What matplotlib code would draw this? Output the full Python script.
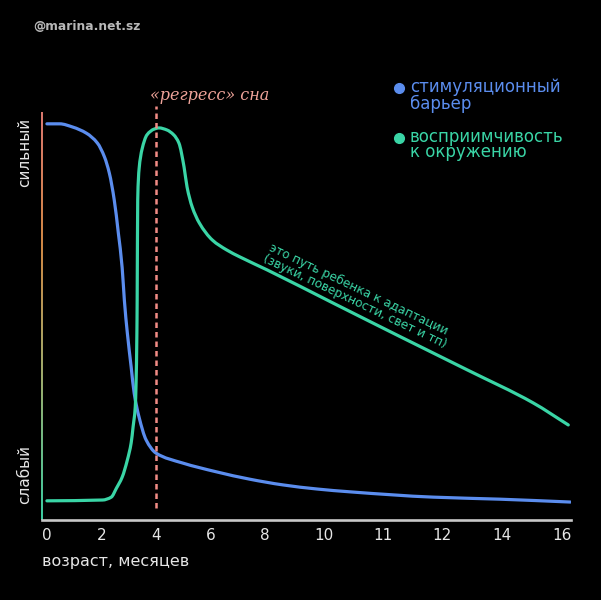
import numpy as np
import matplotlib
matplotlib.use("Agg")
import matplotlib.pyplot as plt
from matplotlib.collections import LineCollection
from matplotlib.lines import Line2D
from matplotlib.path import Path
from matplotlib.patches import PathPatch

plt.rcParams['font.family'] = ['DejaVu Sans']

# x axis: month labels, drawn at uneven positions like in the original
tick_months = [0, 2, 4, 6, 8, 10, 11, 12, 14, 16]
tick_labels = ['0', '2', '4', '6', '8', '10', '11', '12', '14', '16']
tick_pos = [0, 1, 2, 3, 4, 5.08, 6.17, 7.25, 8.35, 9.45]

# stimulus barrier (0 = weak, 100 = strong)
barrier_months = [0, 0.47, 0.95, 1.45, 1.85, 2.11, 2.29, 2.47, 2.62, 2.76, 2.84,
                  2.95, 3.09, 3.2, 3.38, 3.64, 4.0, 4.96, 6.22, 7.44, 8.61,
                  9.76, 10.44, 11.85, 13.93, 16.27]
barrier_vals = [97.1, 97.1, 96.3, 94.8, 92.4, 89.0, 85.0, 78.4, 70.3, 61.8, 53.9,
                45.8, 37.5, 31.1, 25.2, 19.6, 16.4, 14.0, 11.8, 10.0, 8.6,
                7.6, 6.9, 5.6, 5.1, 4.4]

# receptiveness to surroundings
recept_months = [0, 2.04, 2.36, 2.55, 2.76, 2.95, 3.09, 3.16, 3.24, 3.27, 3.30,
                 3.31, 3.33, 3.38, 3.49, 3.67, 3.93, 4.11, 4.4, 4.65, 4.84,
                 5.03, 5.14, 5.33, 5.59, 6.07, 6.59, 7.07, 8.07, 10.15, 11.29,
                 12.83, 15.03, 16.2]
recept_vals = [4.7, 4.9, 5.6, 7.8, 10.5, 14.7, 18.9, 22.8, 27.7, 33.6, 45.8,
               53.9, 78.4, 86.0, 90.9, 94.4, 95.8, 96.1, 95.6, 94.4, 92.4,
               86.5, 81.6, 76.7, 72.8, 68.6, 66.2, 64.5, 61.3, 53.2, 44.9,
               36.8, 28.7, 23.3]

regress_month = 4

BLUE = '#5b8dee'
GREEN = '#3ad5a6'
PINK = '#f0a49a'
WHITE = '#e6e6e6'


def to_pos(m):
    # map months onto the uneven tick layout (extended a bit on both ends)
    mm = [-1] + tick_months + [17]
    pp = [-0.5] + tick_pos + [tick_pos[-1] + 0.55]
    return np.interp(m, mm, pp)


def smooth_line(ax, x, y, **kw):
    """Draw a monotone (no overshoot) bezier curve through the points."""
    x = np.asarray(x, float)
    y = np.asarray(y, float)
    h = np.diff(x)
    d = np.diff(y) / h
    m = np.zeros_like(x)
    m[0], m[-1] = d[0], d[-1]
    for k in range(1, len(x) - 1):
        if d[k - 1] * d[k] > 0:
            w1 = 2 * h[k] + h[k - 1]
            w2 = h[k] + 2 * h[k - 1]
            m[k] = (w1 + w2) / (w1 / d[k - 1] + w2 / d[k])
    verts = [(x[0], y[0])]
    codes = [Path.MOVETO]
    for k in range(len(x) - 1):
        verts += [(x[k] + h[k] / 3, y[k] + m[k] * h[k] / 3),
                  (x[k + 1] - h[k] / 3, y[k + 1] - m[k + 1] * h[k] / 3),
                  (x[k + 1], y[k + 1])]
        codes += [Path.CURVE4] * 3
    patch = PathPatch(Path(verts, codes), fill=False, capstyle='round',
                      joinstyle='round', **kw)
    ax.add_patch(patch)


fig = plt.figure(figsize=(6.01, 6.0), dpi=100, facecolor='black')
ax = fig.add_axes([42 / 601, 1 - 520 / 600, 529 / 601, 408 / 600])
ax.set_facecolor('black')

smooth_line(ax, to_pos(barrier_months), barrier_vals, edgecolor=BLUE, lw=2.3)
smooth_line(ax, to_pos(recept_months), recept_vals, edgecolor=GREEN, lw=2.3)

rx = to_pos(regress_month)
ax.plot([rx, rx], [3, 101.5], color='#f28c86', lw=1.8, ls=(0, (2.2, 1.6)),
        clip_on=False)

ax.set_xlim(-0.09, 9.61)
ax.set_ylim(0, 100)
ax.set_xticks(tick_pos)
ax.set_xticklabels(tick_labels)
ax.set_yticks([])
ax.tick_params(axis='x', length=0, pad=6, labelsize=11, labelcolor=WHITE)
for s in ['top', 'right', 'left']:
    ax.spines[s].set_visible(False)
ax.spines['bottom'].set_color('#c8c8c8')
ax.spines['bottom'].set_linewidth(1.9)

# gradient left spine
ys = np.linspace(0, 1, 60)
segs = [[(0, ys[i]), (0, ys[i + 1])] for i in range(len(ys) - 1)]
cmap = matplotlib.colors.LinearSegmentedColormap.from_list(
    'sp', ['#3ecfa4', '#a0b070', '#d48a46', '#e07a72'])
lc = LineCollection(segs, colors=cmap(ys[:-1]), linewidths=1.4,
                    transform=ax.transAxes, clip_on=False)
ax.add_collection(lc)

ax.set_xlabel('возраст, месяцев', color=WHITE, fontsize=11.5, loc='left',
              labelpad=8)

# texts around the plot
fig.text(25 / 601, 1 - 152 / 600, 'сильный', rotation=90, color=WHITE,
         fontsize=11, ha='center', va='center')
fig.text(25 / 601, 1 - 475 / 600, 'слабый', rotation=90, color=WHITE,
         fontsize=11, ha='center', va='center')
fig.text(33 / 601, 1 - 27 / 600, '@marina.net.sz', color='#b8b8b8',
         fontsize=8.8, fontweight='bold', ha='left', va='center')
fig.text(210 / 601, 1 - 95 / 600, '«регресс» сна', color=PINK,
         fontsize=11.5, family='DejaVu Serif', style='italic',
         ha='center', va='center')

fig.add_artist(Line2D([399 / 601], [1 - 88 / 600], marker='o', ms=7,
                      color=BLUE, transform=fig.transFigure))
fig.add_artist(Line2D([399 / 601], [1 - 138 / 600], marker='o', ms=7,
                      color=GREEN, transform=fig.transFigure))
fig.text(410 / 601, 1 - 95.5 / 600, 'стимуляционный\nбарьер', color=BLUE,
         fontsize=12, ha='left', va='center', linespacing=0.85)
fig.text(410 / 601, 1 - 144.5 / 600, 'восприимчивость\nк окружению', color=GREEN,
         fontsize=12, ha='left', va='center', linespacing=0.85)

fig.text(358 / 601, 1 - 296 / 600,
         'это путь ребенка к адаптации\n(звуки, поверхности, свет и тп)',
         color=GREEN, fontsize=8.7, rotation=-25.5, rotation_mode='anchor',
         ha='center', va='center', multialignment='left', linespacing=1.0)

fig.savefig('out.png', dpi=100, facecolor='black')
